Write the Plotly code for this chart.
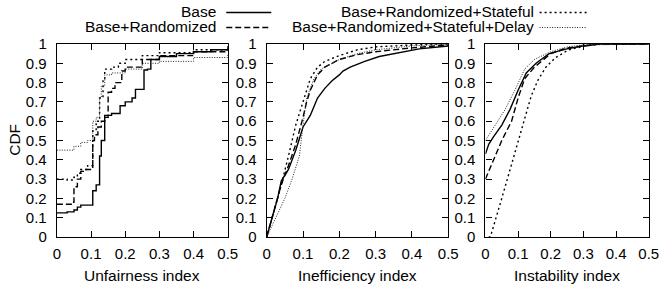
import plotly.graph_objects as go

series_names = ["Base", "Base+Randomized", "Base+Randomized+Stateful", "Base+Randomized+Stateful+Delay"]
x_tick_vals = [0, 0.1, 0.2, 0.3, 0.4, 0.5]
y_tick_vals = [0, 0.1, 0.2, 0.3, 0.4, 0.5, 0.6, 0.7, 0.8, 0.9, 1.0]
panel_titles = ["Unfairness index", "Inefficiency index", "Instability index"]

# Panel 1: Unfairness index (step CDFs)
unf_base_x = [0, 0.03, 0.05, 0.06, 0.07, 0.105, 0.115, 0.125, 0.13, 0.14, 0.16, 0.185, 0.2, 0.22, 0.23, 0.255, 0.265, 0.275, 0.3, 0.35, 0.4, 0.45, 0.5]
unf_base_y = [0.125, 0.13, 0.14, 0.155, 0.165, 0.24, 0.27, 0.42, 0.5, 0.63, 0.64, 0.68, 0.7, 0.72, 0.765, 0.865, 0.87, 0.92, 0.935, 0.95, 0.96, 0.97, 0.985]
unf_rand_x = [0, 0.045, 0.05, 0.06, 0.07, 0.08, 0.105, 0.11, 0.12, 0.13, 0.14, 0.15, 0.16, 0.17, 0.19, 0.2, 0.25, 0.3, 0.4, 0.5]
unf_rand_y = [0.17, 0.18, 0.26, 0.3, 0.34, 0.35, 0.5, 0.53, 0.57, 0.6, 0.62, 0.75, 0.77, 0.8, 0.86, 0.88, 0.92, 0.94, 0.96, 0.98]
unf_stat_x = [0, 0.03, 0.05, 0.06, 0.07, 0.09, 0.105, 0.115, 0.125, 0.135, 0.14, 0.16, 0.18, 0.2, 0.25, 0.3, 0.4, 0.5]
unf_stat_y = [0.3, 0.295, 0.31, 0.33, 0.35, 0.37, 0.55, 0.6, 0.72, 0.82, 0.87, 0.88, 0.9, 0.92, 0.94, 0.955, 0.97, 0.99]
unf_delay_x = [0, 0.04, 0.05, 0.07, 0.09, 0.105, 0.115, 0.125, 0.13, 0.14, 0.16, 0.2, 0.25, 0.3, 0.4, 0.5]
unf_delay_y = [0.45, 0.45, 0.47, 0.49, 0.5, 0.6, 0.62, 0.72, 0.78, 0.84, 0.85, 0.87, 0.9, 0.91, 0.93, 0.95]

# Panel 2: Inefficiency index
ine_base_x = [0, 0.01, 0.02, 0.03, 0.04, 0.06, 0.08, 0.1, 0.12, 0.14, 0.16, 0.18, 0.2, 0.21, 0.23, 0.27, 0.31, 0.37, 0.42, 0.5]
ine_base_y = [0, 0.07, 0.14, 0.2, 0.29, 0.35, 0.45, 0.57, 0.63, 0.72, 0.77, 0.81, 0.84, 0.86, 0.88, 0.91, 0.935, 0.955, 0.975, 0.99]
ine_rand_x = [0, 0.02, 0.04, 0.06, 0.08, 0.1, 0.11, 0.12, 0.14, 0.16, 0.2, 0.25, 0.3, 0.4, 0.5]
ine_rand_y = [0, 0.14, 0.27, 0.37, 0.48, 0.62, 0.7, 0.76, 0.84, 0.88, 0.92, 0.945, 0.96, 0.98, 0.995]
ine_stat_x = [0, 0.02, 0.04, 0.06, 0.08, 0.1, 0.12, 0.14, 0.16, 0.2, 0.25, 0.3, 0.4, 0.5]
ine_stat_y = [0, 0.13, 0.27, 0.42, 0.58, 0.7, 0.82, 0.88, 0.91, 0.94, 0.97, 0.985, 0.995, 1.0]
ine_delay_x = [0, 0.02, 0.05, 0.07, 0.09, 0.1, 0.11, 0.13, 0.15, 0.2, 0.25, 0.3, 0.4, 0.5]
ine_delay_y = [0, 0.08, 0.2, 0.3, 0.42, 0.58, 0.72, 0.82, 0.87, 0.92, 0.95, 0.97, 0.99, 1.0]

# Panel 3: Instability index
ins_base_x = [0, 0.01, 0.025, 0.05, 0.075, 0.1, 0.125, 0.155, 0.195, 0.255, 0.3, 0.35, 0.5]
ins_base_y = [0.43, 0.48, 0.52, 0.58, 0.66, 0.76, 0.85, 0.9, 0.95, 0.977, 0.99, 1.0, 1.0]
ins_rand_x = [0, 0.01, 0.03, 0.05, 0.08, 0.1, 0.12, 0.15, 0.2, 0.25, 0.3, 0.35, 0.5]
ins_rand_y = [0.3, 0.34, 0.42, 0.5, 0.6, 0.72, 0.82, 0.88, 0.95, 0.98, 0.99, 1.0, 1.0]
ins_stat_x = [0.01, 0.015, 0.05, 0.075, 0.1, 0.12, 0.14, 0.16, 0.185, 0.215, 0.255, 0.305, 0.35, 0.5]
ins_stat_y = [0, 0.0, 0.2, 0.35, 0.5, 0.62, 0.73, 0.81, 0.88, 0.93, 0.97, 0.99, 1.0, 1.0]
ins_delay_x = [0, 0.03, 0.06, 0.09, 0.12, 0.15, 0.2, 0.25, 0.3, 0.5]
ins_delay_y = [0.5, 0.58, 0.66, 0.76, 0.87, 0.92, 0.96, 0.985, 0.995, 1.0]

panels = [
    [(unf_base_x, unf_base_y), (unf_rand_x, unf_rand_y), (unf_stat_x, unf_stat_y), (unf_delay_x, unf_delay_y)],
    [(ine_base_x, ine_base_y), (ine_rand_x, ine_rand_y), (ine_stat_x, ine_stat_y), (ine_delay_x, ine_delay_y)],
    [(ins_base_x, ins_base_y), (ins_rand_x, ins_rand_y), (ins_stat_x, ins_stat_y), (ins_delay_x, ins_delay_y)],
]
shapes_per_panel = ["hv", "linear", "linear"]

dashes = ["solid", "6px,3px", "2px,3px", "1px,1.5px"]
widths = [1.4, 1.4, 1.4, 1.0]
colors = ["black", "black", "black", "#222222"]

W, H = 671, 290
ML, MR, MT, MB = 0, 0, 44, 53
plot_h = H - MT - MB
domains_px = [(54, 228.5), (268.3, 453.7), (491.7, 658.5)]
domains = [[a / W, b / W] for a, b in domains_px]

FONT = "Liberation Sans, Arial, Helvetica, sans-serif"
FS = 15
FS_TXT = 15.5

fig = go.Figure()
for p, data in enumerate(panels):
    sfx = "" if p == 0 else str(p + 1)
    for s, (xs, ys) in enumerate(data):
        fig.add_trace(go.Scatter(
            x=xs, y=ys, mode="lines", name=series_names[s], showlegend=False,
            line=dict(color=colors[s], width=widths[s], dash=dashes[s], shape=shapes_per_panel[p]),
            xaxis="x" + sfx, yaxis="y" + sfx,
        ))

layout = dict(
    width=W, height=H, margin=dict(l=ML, r=MR, t=MT, b=MB),
    paper_bgcolor="white", plot_bgcolor="white",
    font=dict(family=FONT, size=FS, color="black"),
    showlegend=False,
)
for p in range(3):
    sfx = "" if p == 0 else str(p + 1)
    layout["xaxis" + sfx] = dict(
        domain=domains[p], range=[0, 0.5], anchor="y" + sfx,
        tickvals=x_tick_vals, ticks="inside", ticklen=6, tickcolor="black",
        showline=True, linecolor="black", linewidth=1.3, mirror="ticks",
        showgrid=False, zeroline=False, ticklabelstandoff=3,
        tickfont=dict(family=FONT, size=FS),
    )
    layout["yaxis" + sfx] = dict(
        domain=[0, 1], range=[0, 1], anchor="x" + sfx,
        tickvals=y_tick_vals, ticks="inside", ticklen=6, tickcolor="black",
        showline=True, linecolor="black", linewidth=1.3, mirror="ticks",
        showgrid=False, zeroline=False, ticklabelstandoff=6,
        tickfont=dict(family=FONT, size=FS),
    )
fig.update_layout(**layout)

def py(pix):
    return (H - MB - pix) / plot_h

annotations = []
for p in range(3):
    cx = (domains[p][0] + domains[p][1]) / 2
    annotations.append(dict(text=panel_titles[p], x=cx, y=py(275), xref="paper", yref="paper",
                            showarrow=False, xanchor="center", yanchor="middle",
                            font=dict(family=FONT, size=FS_TXT)))
annotations.append(dict(text="CDF", x=10 / W, y=py(140), xref="paper", yref="paper",
                        showarrow=False, textangle=-90, xanchor="center", yanchor="middle",
                        font=dict(family=FONT, size=FS_TXT)))

# Legend (gnuplot-style: right-aligned labels, line sample at right)
legend_pos = [(219, 227, 273, 12.5), (219, 227, 273, 27.5), (543, 547, 595, 12.5), (543, 547, 595, 27.5)]
shapes = []
for s, (tx, lx0, lx1, ly) in enumerate(legend_pos):
    annotations.append(dict(text=series_names[s], x=tx / W, y=py(ly - 1), xref="paper", yref="paper",
                            showarrow=False, xanchor="right", yanchor="middle",
                            font=dict(family=FONT, size=FS_TXT)))
    shapes.append(dict(type="line", xref="paper", yref="paper", x0=lx0 / W, x1=lx1 / W,
                       y0=py(ly), y1=py(ly),
                       line=dict(color=colors[s], width=widths[s], dash=dashes[s])))
fig.update_layout(annotations=annotations, shapes=shapes)

fig.write_html("out.html", config={"displayModeBar": False},
               post_script="document.body.style.margin='0px';")
